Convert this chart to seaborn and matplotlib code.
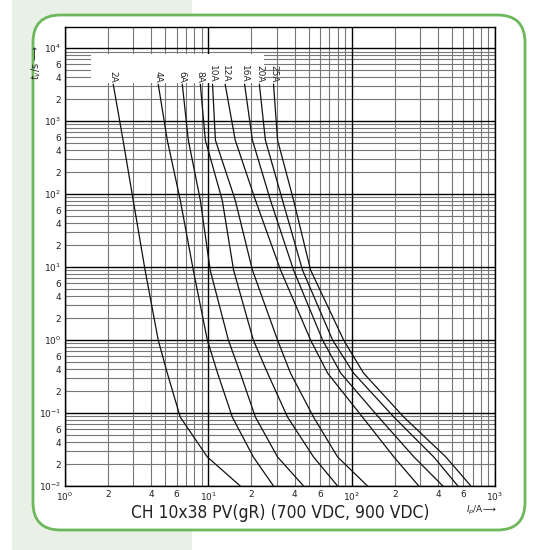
import matplotlib
matplotlib.use('Agg')
import matplotlib.pyplot as plt
import seaborn as sns
import pandas as pd
import numpy as np
from matplotlib.patches import FancyBboxPatch, Rectangle
from matplotlib.ticker import FixedLocator

times = [3210, 550, 82.8, 9.1, 1.0, 0.353, 0.088, 0.025, 0.01]

# prospective current (A) per rating at those times
cur_2a = [2.17, 2.54, 2.99, 3.62, 4.47, 5.17, 6.37, 9.84, 16.7]
cur_4a = [4.47, 5.17, 6.37, 7.85, 9.84, 11.6, 14.7, 20.6, 28.5]
cur_6a = [6.58, 7.25, 8.79, 10.3, 13.8, 16.7, 21.3, 30.4, 46.2]
cur_8a = [8.79, 9.53, 12.5, 15.0, 20.6, 25.9, 35.7, 54.2, 79.8]
cur_10a = [10.7, 11.2, 15.4, 20.3, 30.4, 37.4, 54.2, 79.8, 129]
cur_12a = [13.1, 15.4, 21.3, 31.9, 51.7, 67.9, 119, 197, 294]
cur_16a = [17.9, 20.3, 27.1, 39.3, 62.7, 83.8, 154, 272, 433]
cur_20a = [22.7, 25.0, 32.9, 45.4, 73.6, 103, 197, 374, 551]
cur_25a = [28.5, 30.4, 39.3, 51.7, 87.9, 121, 231, 454, 679]

ratings = ["2A", "4A", "6A", "8A", "10A", "12A", "16A", "20A", "25A"]
currents = [cur_2a, cur_4a, cur_6a, cur_8a, cur_10a, cur_12a, cur_16a, cur_20a, cur_25a]

df = pd.DataFrame([
    {"rating": r, "I": i, "t": t}
    for r, c in zip(ratings, currents)
    for i, t in zip(c, times)
])

sns.set_style("white")
fig = plt.figure(figsize=(5.5, 5.5), dpi=100)
fig.patch.set_facecolor("white")

# light green band and rounded frame (behind the axes)
fig.patches.append(Rectangle((12 / 550, 0), 180 / 550, 1, transform=fig.transFigure,
                             facecolor="#e9f0e6", edgecolor="none", zorder=-2))
fig.patches.append(FancyBboxPatch((33 / 550, 20 / 550), 492 / 550, 515 / 550,
                                  boxstyle="round,pad=0,rounding_size=0.05",
                                  transform=fig.transFigure, facecolor="white",
                                  edgecolor="#6cb85a", linewidth=2, zorder=-1))

ax = fig.add_axes([65 / 550, 64 / 550, 430 / 550, 459 / 550])
ax.set_zorder(2)
ax.set_facecolor("white")
ax.set_xscale("log")
ax.set_yscale("log")
ax.set_xlim(1, 1000)
ax.set_ylim(0.01, 19500)

# log grid: grey minor lines, black decade lines
for e in range(-2, 5):
    for m in range(2, 10):
        if m * 10 ** e < 19500:
            ax.axhline(m * 10 ** e, color="#777777", lw=0.8, zorder=1)
for e in range(0, 3):
    for m in range(2, 10):
        ax.axvline(m * 10 ** e, color="#777777", lw=0.8, zorder=1)
for e in range(-2, 5):
    ax.axhline(10 ** e, color="black", lw=1.0, zorder=1)
for e in range(0, 4):
    ax.axvline(10 ** e, color="black", lw=1.0, zorder=1)

# white label box
ax.add_patch(Rectangle((1.52, 3300), 24.5 - 1.52, 8300 - 3300, facecolor="white",
                       edgecolor="none", zorder=2))

sns.lineplot(data=df, x="I", y="t", hue="rating", palette=["#111111"] * 9,
             sort=False, estimator=None, lw=0.9, legend=False, ax=ax, zorder=3)

for r, c in zip(ratings, currents):
    ax.text(c[0], times[0] * 1.05, r, rotation=-90, fontsize=6.5, ha="center",
            va="bottom", zorder=4)

for s in ax.spines.values():
    s.set_color("black")
    s.set_linewidth(1)


def log_labels(vals):
    out = []
    for v in vals:
        e = int(np.floor(np.log10(v) + 1e-9))
        m = round(v / 10 ** e)
        out.append(f"$10^{{{e}}}$" if m == 1 else str(m))
    return out


yt = [m * 10 ** e for e in range(-2, 5) for m in (1, 2, 4, 6) if m * 10 ** e < 19500]
ax.yaxis.set_major_locator(FixedLocator(yt))
ax.set_yticklabels(log_labels(yt))
ax.yaxis.set_minor_locator(FixedLocator([]))

xt = [m * 10 ** e for e in range(0, 3) for m in (1, 2, 4, 6)] + [1000]
ax.xaxis.set_major_locator(FixedLocator(xt))
ax.set_xticklabels(log_labels(xt))
ax.xaxis.set_minor_locator(FixedLocator([]))
ax.tick_params(axis="both", length=0, labelsize=6.5, colors="#222222", pad=3)
ax.set_xlabel("")
ax.set_ylabel("")

fig.text(36 / 550, 1 - 45 / 550, "$t_v$/s ⟶", rotation=90, fontsize=7, ha="center", va="top")
fig.text(466 / 550, 40 / 550, "$I_p$/A⟶", fontsize=6.5, ha="left", va="center")
fig.text(280 / 550, 37 / 550, "CH 10x38 PV(gR) (700 VDC, 900 VDC)", fontsize=12.5,
         ha="center", va="center", color="#222222", fontstretch="condensed")

fig.savefig("out.png", dpi=100)
